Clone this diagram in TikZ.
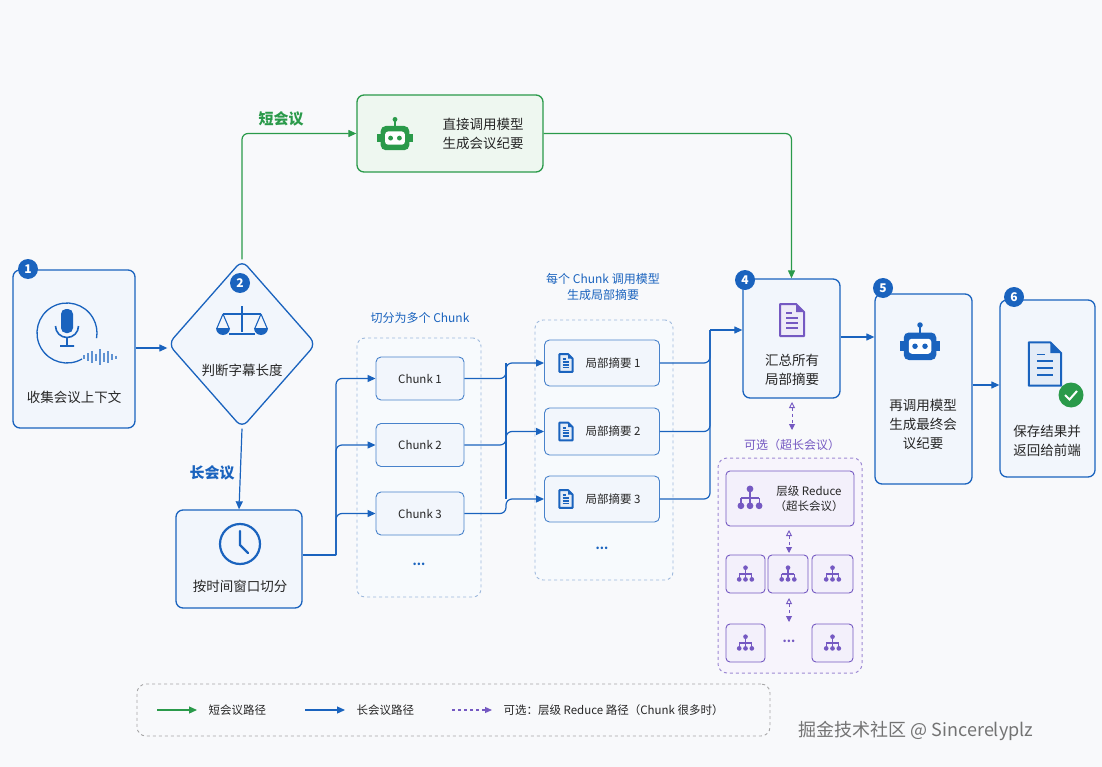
\documentclass[tikz,border=0pt]{standalone}
\usepackage{fontspec}
\setmainfont{Noto Sans CJK SC}
\usetikzlibrary{shapes.geometric,arrows.meta,positioning,calc}
\definecolor{bl}{HTML}{1A63BE}
\definecolor{bfill}{HTML}{F2F6FC}
\definecolor{gr}{HTML}{2A9A4A}
\definecolor{gfill}{HTML}{EEF7F0}
\definecolor{pu}{HTML}{7559C2}
\definecolor{pfill}{HTML}{F3F0FB}
\definecolor{bg}{HTML}{F8F9FB}
\definecolor{dash}{HTML}{9DB8DC}
\tikzset{
  x=1pt,y=-1pt,
  box/.style={draw=bl,line width=1.3pt,fill=bfill,rounded corners=7pt},
  sbox/.style={draw=bl!80,line width=0.9pt,fill=bfill,rounded corners=5pt},
  pbox/.style={draw=pu,line width=0.9pt,fill=pfill,rounded corners=4pt},
  grp/.style={draw=dash,dashed,line width=0.9pt,fill=bfill!60,rounded corners=8pt},
  badge/.style={circle,fill=bl,text=white,inner sep=0pt,minimum size=20pt,font=\bfseries\fontsize{12}{12}\selectfont},
  lbl/.style={font=\fontsize{13.5}{19}\selectfont,align=center,text=black!85},
  sml/.style={font=\fontsize{11.5}{15}\selectfont,align=center,text=black!85},
  barr/.style={draw=bl,line width=1.2pt,-{Triangle[length=8pt,width=7pt]},rounded corners=6pt},
  garr/.style={draw=gr,line width=1.2pt,-{Triangle[length=8pt,width=7pt]},rounded corners=6pt},
  parr/.style={draw=pu,line width=0.9pt,dashed,{Triangle[open,length=6pt,width=6pt]}-{Triangle[length=6pt,width=6pt]}},
}
\newcommand{\treeicon}[3]{% x y scale
  \begin{scope}[shift={(#1,#2)},scale=#3]
   \draw[pu,line width=1.2pt] (0,-6)--(0,0) (-7,0)--(7,0) (-7,0)--(-7,5) (0,0)--(0,5) (7,0)--(7,5);
   \fill[pu] (0,-7) circle (2.6) (-7,6) circle (2.6) (0,6) circle (2.6) (7,6) circle (2.6);
  \end{scope}}
\newcommand{\docicon}[4]{% x y scale color
  \begin{scope}[shift={(#1,#2)},scale=#3]
   \draw[#4,line width=2pt,fill=#4!12,line join=round] (-12,-16)--(4,-16)--(12,-8)--(12,16)--(-12,16)--cycle;
   \fill[#4] (4,-16)--(12,-8)--(4,-8)--cycle;
   \draw[#4,line width=1.8pt] (-6,-2)--(6,-2) (-6,3)--(6,3) (-6,8)--(6,8) (-6,-7)--(0,-7);
  \end{scope}}
\newcommand{\roboticon}[4]{% x y scale color
  \begin{scope}[shift={(#1,#2)},scale=#3]
   \draw[#4,line width=1.5pt] (0,-10)--(0,-15); \fill[#4] (0,-16) circle (2.2);
   \fill[#4,rounded corners=5pt] (-13,-10) rectangle (13,12);
   \fill[#4] (-16,-3) rectangle (16,5);
   \fill[white,rounded corners=3pt] (-9,-5) rectangle (9,7);
   \fill[#4] (-4,1) circle (2.2) (4,1) circle (2.2);
  \end{scope}}
\begin{document}
\begin{tikzpicture}
\fill[bg] (0,0) rectangle (1102,767);
\useasboundingbox (0,0) rectangle (1102,767);
% groups
\node[grp,minimum width=124pt,minimum height=259pt] (g1) at (419,467.5) {};
\node[text=bl,font=\fontsize{12}{14}\selectfont] (g1l) at (420,318) {切分为多个 Chunk};
\node[grp,minimum width=138pt,minimum height=260pt] (g2) at (604,450) {};
\node[text=bl,font=\fontsize{12}{16}\selectfont,align=center] (g2l) at (603,287) {每个 Chunk 调用模型\\生成局部摘要};
% node 1
\node[box,minimum width=122pt,minimum height=158pt] (n1) at (74,349) {};
\draw[bl,line width=1.3pt] (67,333) ++(60:30) arc (60:370:30);
\fill[bl,rounded corners=5pt] (61,309) rectangle (73,333);
\draw[bl,line width=1.6pt] (55.5,326) arc (180:0:11.5) (67,337.5)--(67,346) (60,346)--(74,346);
\foreach \i/\h in {0/4,1/8,2/12,3/7,4/16,5/9,6/12,7/6,8/3}{\draw[bl!70,line width=1.1pt] (84+4*\i,357-\h/2)--(84+4*\i,357+\h/2);}
\node[lbl] (t1) at (74,397) {收集会议上下文};
\node[badge] (b1) at (28,269) {1};
% diamond
\node[draw=bl,line width=1.3pt,fill=bfill,diamond,minimum width=148pt,minimum height=168pt,rounded corners=8pt,inner sep=0pt] (n2) at (242,344) {};
\begin{scope}[bl,line width=1.8pt]
 \draw (242,306)--(242,332) (223,314)--(261,314) (229,334)--(255,334);
 \draw[line width=1.1pt] (223,314)--(217,328) (223,314)--(229,328) (261,314)--(255,328) (261,314)--(267,328);
 \fill (216,328) arc (180:0:7) -- cycle; \fill (254,328) arc (180:0:7) -- cycle;
\end{scope}
\node[lbl] (t2) at (242,370) {判断字幕长度};
\node[badge] (b2) at (240,283) {2};
% green box
\node[draw=gr,line width=1.3pt,fill=gfill,rounded corners=7pt,minimum width=186pt,minimum height=77pt] (ng) at (450,133.5) {};
\roboticon{395}{137}{1.1}{gr}
\node[lbl] (tg) at (483,134) {直接调用模型\\生成会议纪要};
\node[text=gr,font=\bfseries\fontsize{15}{15}\selectfont] (lg) at (281,119) {短会议};
% clock box
\node[box,minimum width=126pt,minimum height=98pt] (n3) at (239,559) {};
\draw[bl,line width=2.2pt] (240,544) circle (20); \draw[bl,line width=2.2pt,line cap=round] (240,531)--(240,545)--(248,553);
\node[lbl] (t3) at (240,586) {按时间窗口切分};
\node[text=bl,font=\bfseries\fontsize{15}{15}\selectfont] (ll) at (212,473) {长会议};
% chunks
\node[sbox,minimum width=88pt,minimum height=43pt,sml] (c1) at (420,378.5) {Chunk 1};
\node[sbox,minimum width=88pt,minimum height=43pt,sml] (c2) at (420,445) {Chunk 2};
\node[sbox,minimum width=88pt,minimum height=43pt,sml] (c3) at (420,513.5) {Chunk 3};
\node[sbox,minimum width=115pt,minimum height=46pt] (s1) at (602,363) {};
\node[sbox,minimum width=115pt,minimum height=47pt] (s2) at (602,431.5) {};
\node[sbox,minimum width=115pt,minimum height=46pt] (s3) at (602,499) {};
\foreach \n in {1,2,3}{
 \node[sml,anchor=west] (st\n) at ($(s\n.west)+(38,0)$) {局部摘要 \n};
}
\foreach \y in {363,431.5,499}{\docicon{566}{\y}{0.55}{bl}}
\node[font=\bfseries\fontsize{12}{12}\selectfont,text=bl] (d1) at (419,564) {...};
\node[font=\bfseries\fontsize{12}{12}\selectfont,text=bl] (d2) at (602,548) {...};
% box4
\node[box,minimum width=97pt,minimum height=119pt] (n4) at (791.5,338.5) {};
\docicon{792}{320}{1.0}{pu}
\node[lbl] (t4) at (792,370) {汇总所有\\局部摘要};
\node[badge] (b4) at (745,280) {4};
% box5
\node[box,minimum width=97pt,minimum height=190pt] (n5) at (923.5,389) {};
\roboticon{920}{345}{1.25}{bl}
\node[lbl] (t5) at (923,424) {再调用模型\\生成最终会\\议纪要};
\node[badge] (b5) at (883,288) {5};
% box6
\node[box,minimum width=95pt,minimum height=177pt] (n6) at (1047.5,388.5) {};
\docicon{1045}{364}{1.35}{bl}
\fill[gr] (1071,395) circle (12.5); \draw[white,line width=2pt] (1065,395)--(1069.5,399.5)--(1077,391);
\node[lbl] (t6) at (1047,441) {保存结果并\\返回给前端};
\node[badge] (b6) at (1014,297) {6};
% purple group
\node[draw=pu!70,dashed,line width=1pt,fill=pfill!70,rounded corners=9pt,minimum width=144pt,minimum height=215pt] (pg) at (790,565.5) {};
\node[text=pu,font=\fontsize{12}{14}\selectfont] (pl) at (792,445) {可选（超长会议）};
\node[pbox,minimum width=128pt,minimum height=55pt] (rd) at (790,498.5) {};
\treeicon{750}{498}{1.3}
\node[sml,align=center] (rt) at (809,498.5) {层级 Reduce\\（超长会议）};
\node[pbox,minimum width=39pt,minimum height=38pt] (p1) at (745.5,574) {};
\node[pbox,minimum width=40pt,minimum height=38pt] (p2) at (788,574) {};
\node[pbox,minimum width=41pt,minimum height=38pt] (p3) at (832.5,574) {};
\node[pbox,minimum width=39pt,minimum height=38pt] (p4) at (745.5,643) {};
\node[pbox,minimum width=41pt,minimum height=38pt] (p5) at (832.5,643) {};
\treeicon{745.5}{574}{0.9}\treeicon{788}{574}{0.9}\treeicon{832.5}{574}{0.9}
\treeicon{745.5}{643}{0.9}\treeicon{832.5}{643}{0.9}
\node[text=pu,font=\bfseries\fontsize{12}{12}\selectfont] (d3) at (789,641) {...};
% connectors
\draw[barr] (n1.east|-0,348) -- (n2.west|-0,348);
\draw[barr] (n2.south) -- (n3.north);
\draw[garr] (n2.north) |- (ng.west);
\draw[garr] (ng.east) -| (n4.north);
\coordinate (j1) at (336,555);
\draw[bl,line width=1.2pt] (n3.east|-j1) -- (j1);
\foreach \n in {1,2,3}{\draw[barr] (j1) |- (c\n.west);}
\coordinate (j2) at (506,0);
\foreach \n in {1,2,3}{\draw[barr] (c\n.east) -| (j2|-s\n.west) -- (s\n.west);}
\draw[bl,line width=1.2pt] (j2|-s1.west) -- (j2|-s3.west);
\coordinate (j3) at (710,330);
\foreach \n in {1,2,3}{\draw[bl,line width=1.2pt,rounded corners=6pt] (s\n.east) -| (j3);}
\draw[barr] (j3) -- (n4.west|-j3);
\draw[barr] (n4.east|-0,337) -- (n5.west|-0,337);
\draw[barr] (n5.east|-0,385) -- (n6.west|-0,385);
\draw[parr] (792,402) -- (792,430);
\draw[parr] (789,530) -- (789,553);
\draw[parr] (789,598) -- (789,622);
% legend
\node[draw=black!35,dashed,line width=0.9pt,rounded corners=9pt,minimum width=633pt,minimum height=52pt] (lgd) at (453.5,710) {};
\coordinate (la1) at (157,710); \coordinate (la2) at (197,710);
\draw[garr] (la1) -- (la2);
\node[sml,anchor=west] (lt1) at (205,710) {短会议路径};
\coordinate (lb1) at (305,710); \coordinate (lb2) at (345,710);
\draw[barr] (lb1) -- (lb2);
\node[sml,anchor=west] (lt2) at (353,710) {长会议路径};
\coordinate (lc1) at (452,710); \coordinate (lc2) at (492,710);
\draw[draw=pu,line width=1.2pt,dashed,-{Triangle[length=7pt,width=6pt]}] (lc1) -- (lc2);
\node[sml,anchor=west] (lt3) at (500,710) {可选：层级 Reduce 路径（Chunk 很多时）};
\node[text=black!55,font=\fontsize{18}{18}\selectfont] (wm) at (916,731) {掘金技术社区 @ Sincerelyplz};
\end{tikzpicture}
\end{document}
